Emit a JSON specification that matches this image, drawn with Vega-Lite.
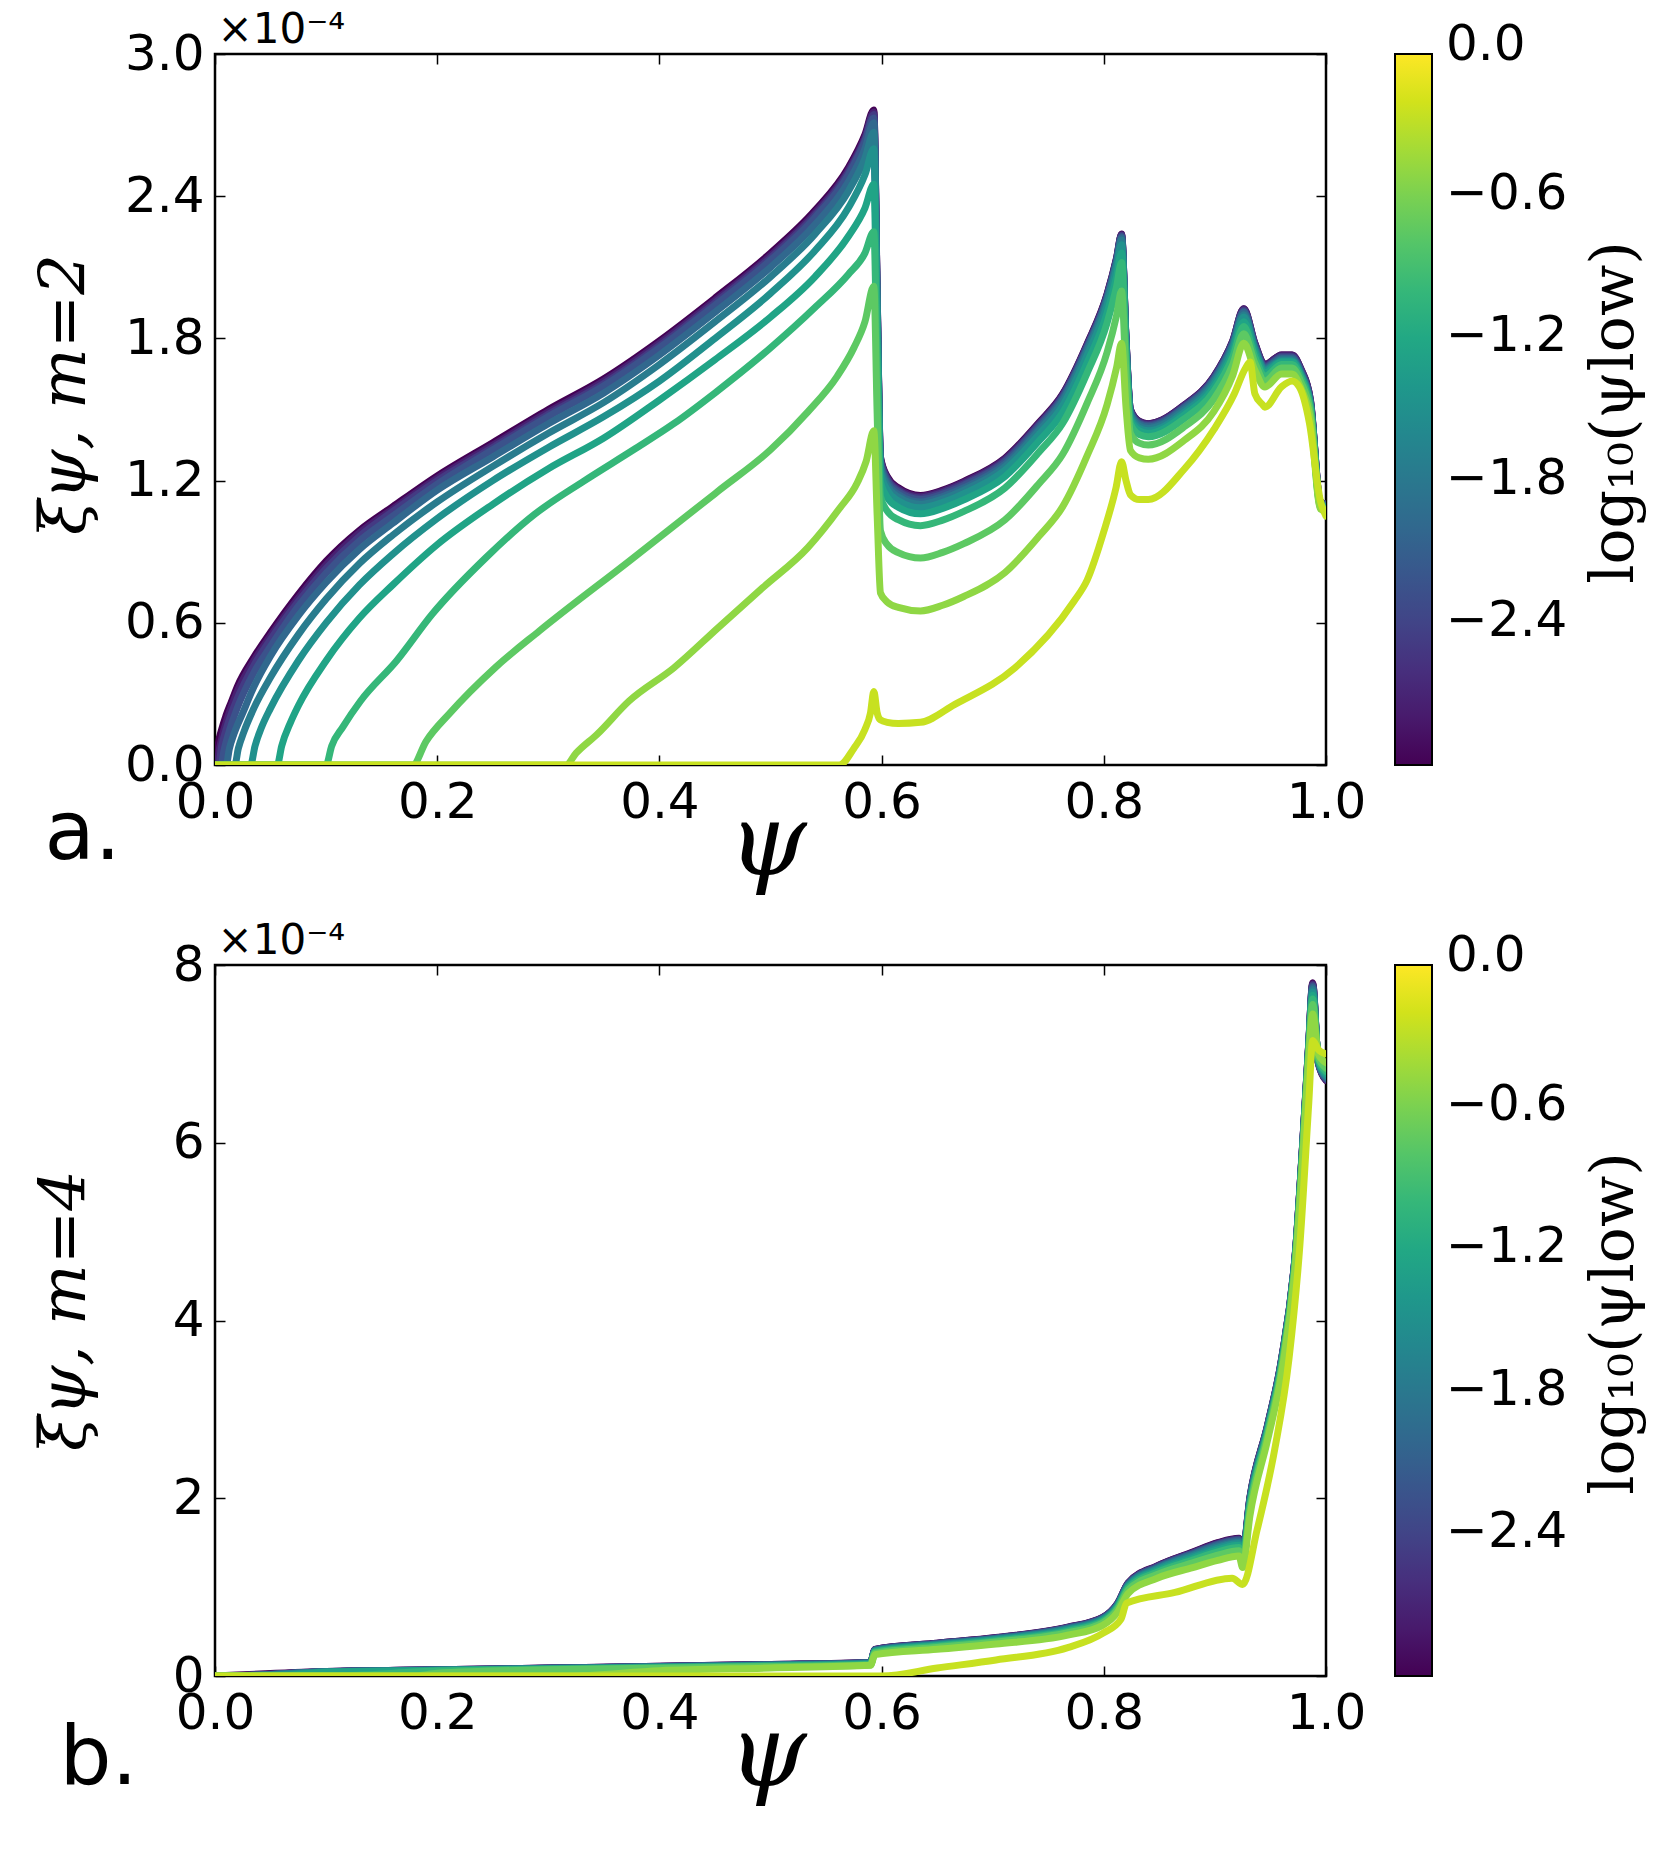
{
"$schema": "https://vega.github.io/schema/vega-lite/v6.json",
"background": "white",
"padding": {"left": 31, "top": 6, "right": 0, "bottom": 24},
"spacing": 22,
"config": {
  "font": "DejaVu Sans",
  "view": {"stroke": "black", "strokeWidth": 2.5},
  "axis": {"grid": false, "domain": false, "ticks": true, "tickColor": "black", "tickWidth": 1.5, "tickSize": -10, "labelFontSize": 50, "labelFont": "DejaVu Sans", "labelColor": "black", "labelFlush": false, "labelOverlap": false, "titleColor": "black", "titleFontWeight": "normal", "titlePadding": 0},
  "legend": {"labelFontSize": 50, "labelFont": "DejaVu Sans", "labelColor": "black"}
},
"datasets": {
"a": [
{"v":-3,"x":0,"y":0},{"v":-3,"x":0.001,"y":0},{"v":-3,"x":0.003,"y":0.09},{"v":-3,"x":0.006,"y":0.15},{"v":-3,"x":0.01,"y":0.21},{"v":-3,"x":0.015,"y":0.27},{"v":-3,"x":0.02,"y":0.33},{"v":-3,"x":0.035,"y":0.455},{"v":-3,"x":0.05,"y":0.56},{"v":-3,"x":0.075,"y":0.72},{"v":-3,"x":0.1,"y":0.86},{"v":-3,"x":0.13,"y":0.99},{"v":-3,"x":0.16,"y":1.09},{"v":-3,"x":0.2,"y":1.22},{"v":-3,"x":0.25,"y":1.36},{"v":-3,"x":0.3,"y":1.5},{"v":-3,"x":0.35,"y":1.63},{"v":-3,"x":0.4,"y":1.79},{"v":-3,"x":0.45,"y":1.97},{"v":-3,"x":0.5,"y":2.16},{"v":-3,"x":0.54,"y":2.34},{"v":-3,"x":0.57,"y":2.52},{"v":-3,"x":0.585,"y":2.66},{"v":-3,"x":0.593,"y":2.764},
{"v":-3,"x":0.596,"y":2.0},{"v":-3,"x":0.599,"y":1.3},{"v":-3,"x":0.605,"y":1.218},{"v":-3,"x":0.615,"y":1.17},{"v":-3,"x":0.635,"y":1.137},{"v":-3,"x":0.655,"y":1.16},{"v":-3,"x":0.674,"y":1.197},{"v":-3,"x":0.711,"y":1.295},{"v":-3,"x":0.7416,"y":1.445},{"v":-3,"x":0.763,"y":1.566},{"v":-3,"x":0.785,"y":1.777},{"v":-3,"x":0.803,"y":1.988},{"v":-3,"x":0.8115,"y":2.14},{"v":-3,"x":0.816,"y":2.24},
{"v":-3,"x":0.82,"y":1.8},{"v":-3,"x":0.824,"y":1.5},{"v":-3,"x":0.832,"y":1.45},{"v":-3,"x":0.84,"y":1.44},{"v":-3,"x":0.8727,"y":1.52},{"v":-3,"x":0.899,"y":1.639},{"v":-3,"x":0.916,"y":1.789},{"v":-3,"x":0.926,"y":1.925},
{"v":-3,"x":0.936,"y":1.779},{"v":-3,"x":0.945,"y":1.69},{"v":-3,"x":0.96,"y":1.73},{"v":-3,"x":0.9695,"y":1.73},{"v":-3,"x":0.9775,"y":1.67},{"v":-3,"x":0.986,"y":1.54},{"v":-3,"x":0.995,"y":1.11},{"v":-3,"x":1.0,"y":1.1},

{"v":-2.75,"x":0,"y":0},{"v":-2.75,"x":0.0018,"y":0},{"v":-2.75,"x":0.004,"y":0.07},{"v":-2.75,"x":0.007,"y":0.13},{"v":-2.75,"x":0.01,"y":0.18},{"v":-2.75,"x":0.015,"y":0.25},{"v":-2.75,"x":0.02,"y":0.31},{"v":-2.75,"x":0.035,"y":0.44},{"v":-2.75,"x":0.05,"y":0.545},{"v":-2.75,"x":0.075,"y":0.705},{"v":-2.75,"x":0.1,"y":0.845},{"v":-2.75,"x":0.13,"y":0.98},{"v":-2.75,"x":0.16,"y":1.08},{"v":-2.75,"x":0.2,"y":1.21},{"v":-2.75,"x":0.25,"y":1.35},{"v":-2.75,"x":0.3,"y":1.49},{"v":-2.75,"x":0.35,"y":1.62},{"v":-2.75,"x":0.4,"y":1.78},{"v":-2.75,"x":0.45,"y":1.96},{"v":-2.75,"x":0.5,"y":2.15},{"v":-2.75,"x":0.54,"y":2.33},{"v":-2.75,"x":0.57,"y":2.51},{"v":-2.75,"x":0.585,"y":2.65},{"v":-2.75,"x":0.593,"y":2.755},
{"v":-2.75,"x":0.596,"y":1.993},{"v":-2.75,"x":0.599,"y":1.295},{"v":-2.75,"x":0.605,"y":1.214},{"v":-2.75,"x":0.615,"y":1.165},{"v":-2.75,"x":0.635,"y":1.133},{"v":-2.75,"x":0.655,"y":1.156},{"v":-2.75,"x":0.674,"y":1.193},{"v":-2.75,"x":0.711,"y":1.291},{"v":-2.75,"x":0.7416,"y":1.441},{"v":-2.75,"x":0.763,"y":1.563},{"v":-2.75,"x":0.785,"y":1.774},{"v":-2.75,"x":0.803,"y":1.985},{"v":-2.75,"x":0.8115,"y":2.137},{"v":-2.75,"x":0.816,"y":2.238},
{"v":-2.75,"x":0.82,"y":1.799},{"v":-2.75,"x":0.824,"y":1.5},{"v":-2.75,"x":0.832,"y":1.45},{"v":-2.75,"x":0.84,"y":1.44},{"v":-2.75,"x":0.8727,"y":1.52},{"v":-2.75,"x":0.899,"y":1.639},{"v":-2.75,"x":0.916,"y":1.789},{"v":-2.75,"x":0.926,"y":1.925},
{"v":-2.75,"x":0.936,"y":1.779},{"v":-2.75,"x":0.945,"y":1.69},{"v":-2.75,"x":0.96,"y":1.73},{"v":-2.75,"x":0.9695,"y":1.73},{"v":-2.75,"x":0.9775,"y":1.67},{"v":-2.75,"x":0.986,"y":1.54},{"v":-2.75,"x":0.995,"y":1.11},{"v":-2.75,"x":1.0,"y":1.1},

{"v":-2.5,"x":0,"y":0},{"v":-2.5,"x":0.0032,"y":0},{"v":-2.5,"x":0.006,"y":0.08},{"v":-2.5,"x":0.01,"y":0.15},{"v":-2.5,"x":0.015,"y":0.22},{"v":-2.5,"x":0.02,"y":0.28},{"v":-2.5,"x":0.035,"y":0.42},{"v":-2.5,"x":0.05,"y":0.53},{"v":-2.5,"x":0.075,"y":0.69},{"v":-2.5,"x":0.1,"y":0.83},{"v":-2.5,"x":0.13,"y":0.965},{"v":-2.5,"x":0.16,"y":1.07},{"v":-2.5,"x":0.2,"y":1.2},{"v":-2.5,"x":0.25,"y":1.34},{"v":-2.5,"x":0.3,"y":1.48},{"v":-2.5,"x":0.35,"y":1.61},{"v":-2.5,"x":0.4,"y":1.77},{"v":-2.5,"x":0.45,"y":1.95},{"v":-2.5,"x":0.5,"y":2.14},{"v":-2.5,"x":0.54,"y":2.32},{"v":-2.5,"x":0.57,"y":2.5},{"v":-2.5,"x":0.585,"y":2.64},{"v":-2.5,"x":0.593,"y":2.745},
{"v":-2.5,"x":0.596,"y":1.985},{"v":-2.5,"x":0.599,"y":1.289},{"v":-2.5,"x":0.605,"y":1.208},{"v":-2.5,"x":0.615,"y":1.159},{"v":-2.5,"x":0.635,"y":1.127},{"v":-2.5,"x":0.655,"y":1.15},{"v":-2.5,"x":0.674,"y":1.187},{"v":-2.5,"x":0.711,"y":1.285},{"v":-2.5,"x":0.7416,"y":1.436},{"v":-2.5,"x":0.763,"y":1.558},{"v":-2.5,"x":0.785,"y":1.77},{"v":-2.5,"x":0.803,"y":1.981},{"v":-2.5,"x":0.8115,"y":2.134},{"v":-2.5,"x":0.816,"y":2.235},
{"v":-2.5,"x":0.82,"y":1.796},{"v":-2.5,"x":0.824,"y":1.496},{"v":-2.5,"x":0.832,"y":1.446},{"v":-2.5,"x":0.84,"y":1.436},{"v":-2.5,"x":0.8727,"y":1.516},{"v":-2.5,"x":0.899,"y":1.634},{"v":-2.5,"x":0.916,"y":1.784},{"v":-2.5,"x":0.926,"y":1.92},
{"v":-2.5,"x":0.936,"y":1.774},{"v":-2.5,"x":0.945,"y":1.685},{"v":-2.5,"x":0.96,"y":1.725},{"v":-2.5,"x":0.9695,"y":1.725},{"v":-2.5,"x":0.9775,"y":1.665},{"v":-2.5,"x":0.986,"y":1.535},{"v":-2.5,"x":0.995,"y":1.11},{"v":-2.5,"x":1.0,"y":1.1},

{"v":-2.25,"x":0,"y":0},{"v":-2.25,"x":0.0056,"y":0},{"v":-2.25,"x":0.008,"y":0.06},{"v":-2.25,"x":0.012,"y":0.13},{"v":-2.25,"x":0.02,"y":0.24},{"v":-2.25,"x":0.035,"y":0.39},{"v":-2.25,"x":0.05,"y":0.5},{"v":-2.25,"x":0.075,"y":0.67},{"v":-2.25,"x":0.1,"y":0.81},{"v":-2.25,"x":0.13,"y":0.945},{"v":-2.25,"x":0.16,"y":1.05},{"v":-2.25,"x":0.2,"y":1.185},{"v":-2.25,"x":0.25,"y":1.33},{"v":-2.25,"x":0.3,"y":1.47},{"v":-2.25,"x":0.35,"y":1.6},{"v":-2.25,"x":0.4,"y":1.76},{"v":-2.25,"x":0.45,"y":1.94},{"v":-2.25,"x":0.5,"y":2.13},{"v":-2.25,"x":0.54,"y":2.31},{"v":-2.25,"x":0.57,"y":2.49},{"v":-2.25,"x":0.585,"y":2.63},{"v":-2.25,"x":0.593,"y":2.73},
{"v":-2.25,"x":0.596,"y":1.973},{"v":-2.25,"x":0.599,"y":1.281},{"v":-2.25,"x":0.605,"y":1.2},{"v":-2.25,"x":0.615,"y":1.152},{"v":-2.25,"x":0.635,"y":1.12},{"v":-2.25,"x":0.655,"y":1.143},{"v":-2.25,"x":0.674,"y":1.18},{"v":-2.25,"x":0.711,"y":1.279},{"v":-2.25,"x":0.7416,"y":1.43},{"v":-2.25,"x":0.763,"y":1.552},{"v":-2.25,"x":0.785,"y":1.764},{"v":-2.25,"x":0.803,"y":1.976},{"v":-2.25,"x":0.8115,"y":2.129},{"v":-2.25,"x":0.816,"y":2.23},
{"v":-2.25,"x":0.82,"y":1.791},{"v":-2.25,"x":0.824,"y":1.492},{"v":-2.25,"x":0.832,"y":1.442},{"v":-2.25,"x":0.84,"y":1.432},{"v":-2.25,"x":0.8727,"y":1.512},{"v":-2.25,"x":0.899,"y":1.63},{"v":-2.25,"x":0.916,"y":1.78},{"v":-2.25,"x":0.926,"y":1.915},
{"v":-2.25,"x":0.936,"y":1.769},{"v":-2.25,"x":0.945,"y":1.68},{"v":-2.25,"x":0.96,"y":1.72},{"v":-2.25,"x":0.9695,"y":1.72},{"v":-2.25,"x":0.9775,"y":1.66},{"v":-2.25,"x":0.986,"y":1.53},{"v":-2.25,"x":0.995,"y":1.11},{"v":-2.25,"x":1.0,"y":1.1},

{"v":-2,"x":0,"y":0},{"v":-2,"x":0.01,"y":0},{"v":-2,"x":0.013,"y":0.07},{"v":-2,"x":0.017,"y":0.13},{"v":-2,"x":0.025,"y":0.22},{"v":-2,"x":0.035,"y":0.33},{"v":-2,"x":0.05,"y":0.46},{"v":-2,"x":0.075,"y":0.63},{"v":-2,"x":0.1,"y":0.77},{"v":-2,"x":0.13,"y":0.91},{"v":-2,"x":0.16,"y":1.02},{"v":-2,"x":0.2,"y":1.16},{"v":-2,"x":0.25,"y":1.3},{"v":-2,"x":0.3,"y":1.44},{"v":-2,"x":0.35,"y":1.57},{"v":-2,"x":0.4,"y":1.73},{"v":-2,"x":0.45,"y":1.91},{"v":-2,"x":0.5,"y":2.1},{"v":-2,"x":0.54,"y":2.28},{"v":-2,"x":0.57,"y":2.46},{"v":-2,"x":0.585,"y":2.6},{"v":-2,"x":0.593,"y":2.71},
{"v":-2,"x":0.596,"y":1.958},{"v":-2,"x":0.599,"y":1.27},{"v":-2,"x":0.605,"y":1.19},{"v":-2,"x":0.615,"y":1.142},{"v":-2,"x":0.635,"y":1.11},{"v":-2,"x":0.655,"y":1.133},{"v":-2,"x":0.674,"y":1.17},{"v":-2,"x":0.711,"y":1.269},{"v":-2,"x":0.7416,"y":1.421},{"v":-2,"x":0.763,"y":1.544},{"v":-2,"x":0.785,"y":1.757},{"v":-2,"x":0.803,"y":1.97},{"v":-2,"x":0.8115,"y":2.124},{"v":-2,"x":0.816,"y":2.225},
{"v":-2,"x":0.82,"y":1.786},{"v":-2,"x":0.824,"y":1.487},{"v":-2,"x":0.832,"y":1.437},{"v":-2,"x":0.84,"y":1.427},{"v":-2,"x":0.8727,"y":1.507},{"v":-2,"x":0.899,"y":1.625},{"v":-2,"x":0.916,"y":1.775},{"v":-2,"x":0.926,"y":1.91},
{"v":-2,"x":0.936,"y":1.764},{"v":-2,"x":0.945,"y":1.675},{"v":-2,"x":0.96,"y":1.715},{"v":-2,"x":0.9695,"y":1.715},{"v":-2,"x":0.9775,"y":1.655},{"v":-2,"x":0.986,"y":1.525},{"v":-2,"x":0.995,"y":1.105},{"v":-2,"x":1.0,"y":1.095},

{"v":-1.75,"x":0,"y":0},{"v":-1.75,"x":0.0178,"y":0},{"v":-1.75,"x":0.021,"y":0.07},{"v":-1.75,"x":0.026,"y":0.14},{"v":-1.75,"x":0.035,"y":0.24},{"v":-1.75,"x":0.05,"y":0.37},{"v":-1.75,"x":0.075,"y":0.55},{"v":-1.75,"x":0.1,"y":0.7},{"v":-1.75,"x":0.13,"y":0.85},{"v":-1.75,"x":0.16,"y":0.97},{"v":-1.75,"x":0.2,"y":1.11},{"v":-1.75,"x":0.25,"y":1.26},{"v":-1.75,"x":0.3,"y":1.4},{"v":-1.75,"x":0.35,"y":1.53},{"v":-1.75,"x":0.4,"y":1.69},{"v":-1.75,"x":0.45,"y":1.87},{"v":-1.75,"x":0.5,"y":2.06},{"v":-1.75,"x":0.54,"y":2.24},{"v":-1.75,"x":0.57,"y":2.42},{"v":-1.75,"x":0.585,"y":2.56},{"v":-1.75,"x":0.593,"y":2.67},
{"v":-1.75,"x":0.596,"y":1.932},{"v":-1.75,"x":0.599,"y":1.257},{"v":-1.75,"x":0.605,"y":1.179},{"v":-1.75,"x":0.615,"y":1.131},{"v":-1.75,"x":0.635,"y":1.1},{"v":-1.75,"x":0.655,"y":1.123},{"v":-1.75,"x":0.674,"y":1.16},{"v":-1.75,"x":0.711,"y":1.259},{"v":-1.75,"x":0.7416,"y":1.411},{"v":-1.75,"x":0.763,"y":1.534},{"v":-1.75,"x":0.785,"y":1.747},{"v":-1.75,"x":0.803,"y":1.96},{"v":-1.75,"x":0.8115,"y":2.114},{"v":-1.75,"x":0.816,"y":2.215},
{"v":-1.75,"x":0.82,"y":1.778},{"v":-1.75,"x":0.824,"y":1.48},{"v":-1.75,"x":0.832,"y":1.43},{"v":-1.75,"x":0.84,"y":1.42},{"v":-1.75,"x":0.8727,"y":1.499},{"v":-1.75,"x":0.899,"y":1.617},{"v":-1.75,"x":0.916,"y":1.766},{"v":-1.75,"x":0.926,"y":1.9},
{"v":-1.75,"x":0.936,"y":1.757},{"v":-1.75,"x":0.945,"y":1.67},{"v":-1.75,"x":0.96,"y":1.71},{"v":-1.75,"x":0.9695,"y":1.71},{"v":-1.75,"x":0.9775,"y":1.65},{"v":-1.75,"x":0.986,"y":1.52},{"v":-1.75,"x":0.995,"y":1.1},{"v":-1.75,"x":1.0,"y":1.09},

{"v":-1.5,"x":0,"y":0},{"v":-1.5,"x":0.032,"y":0},{"v":-1.5,"x":0.036,"y":0.08},{"v":-1.5,"x":0.042,"y":0.16},{"v":-1.5,"x":0.05,"y":0.24},{"v":-1.5,"x":0.075,"y":0.44},{"v":-1.5,"x":0.1,"y":0.6},{"v":-1.5,"x":0.13,"y":0.76},{"v":-1.5,"x":0.16,"y":0.89},{"v":-1.5,"x":0.2,"y":1.04},{"v":-1.5,"x":0.25,"y":1.2},{"v":-1.5,"x":0.3,"y":1.34},{"v":-1.5,"x":0.35,"y":1.47},{"v":-1.5,"x":0.4,"y":1.62},{"v":-1.5,"x":0.45,"y":1.8},{"v":-1.5,"x":0.5,"y":1.99},{"v":-1.5,"x":0.54,"y":2.17},{"v":-1.5,"x":0.57,"y":2.35},{"v":-1.5,"x":0.585,"y":2.49},{"v":-1.5,"x":0.593,"y":2.6},
{"v":-1.5,"x":0.596,"y":1.888},{"v":-1.5,"x":0.599,"y":1.237},{"v":-1.5,"x":0.605,"y":1.161},{"v":-1.5,"x":0.615,"y":1.115},{"v":-1.5,"x":0.635,"y":1.085},{"v":-1.5,"x":0.655,"y":1.108},{"v":-1.5,"x":0.674,"y":1.145},{"v":-1.5,"x":0.711,"y":1.244},{"v":-1.5,"x":0.7416,"y":1.395},{"v":-1.5,"x":0.763,"y":1.517},{"v":-1.5,"x":0.785,"y":1.729},{"v":-1.5,"x":0.803,"y":1.941},{"v":-1.5,"x":0.8115,"y":2.094},{"v":-1.5,"x":0.816,"y":2.195},
{"v":-1.5,"x":0.82,"y":1.763},{"v":-1.5,"x":0.824,"y":1.469},{"v":-1.5,"x":0.832,"y":1.42},{"v":-1.5,"x":0.84,"y":1.41},{"v":-1.5,"x":0.8727,"y":1.489},{"v":-1.5,"x":0.899,"y":1.607},{"v":-1.5,"x":0.916,"y":1.756},{"v":-1.5,"x":0.926,"y":1.89},
{"v":-1.5,"x":0.936,"y":1.75},{"v":-1.5,"x":0.945,"y":1.665},{"v":-1.5,"x":0.96,"y":1.705},{"v":-1.5,"x":0.9695,"y":1.705},{"v":-1.5,"x":0.9775,"y":1.645},{"v":-1.5,"x":0.986,"y":1.515},{"v":-1.5,"x":0.995,"y":1.1},{"v":-1.5,"x":1.0,"y":1.09},

{"v":-1.25,"x":0,"y":0},{"v":-1.25,"x":0.056,"y":0},{"v":-1.25,"x":0.06,"y":0.08},{"v":-1.25,"x":0.068,"y":0.18},{"v":-1.25,"x":0.075,"y":0.25},{"v":-1.25,"x":0.1,"y":0.44},{"v":-1.25,"x":0.13,"y":0.62},{"v":-1.25,"x":0.16,"y":0.76},{"v":-1.25,"x":0.2,"y":0.93},{"v":-1.25,"x":0.25,"y":1.1},{"v":-1.25,"x":0.3,"y":1.25},{"v":-1.25,"x":0.35,"y":1.38},{"v":-1.25,"x":0.4,"y":1.54},{"v":-1.25,"x":0.45,"y":1.71},{"v":-1.25,"x":0.5,"y":1.89},{"v":-1.25,"x":0.54,"y":2.06},{"v":-1.25,"x":0.57,"y":2.23},{"v":-1.25,"x":0.585,"y":2.35},{"v":-1.25,"x":0.593,"y":2.45},
{"v":-1.25,"x":0.596,"y":1.797},{"v":-1.25,"x":0.599,"y":1.199},{"v":-1.25,"x":0.605,"y":1.13},{"v":-1.25,"x":0.615,"y":1.088},{"v":-1.25,"x":0.635,"y":1.06},{"v":-1.25,"x":0.655,"y":1.083},{"v":-1.25,"x":0.674,"y":1.119},{"v":-1.25,"x":0.711,"y":1.217},{"v":-1.25,"x":0.7416,"y":1.367},{"v":-1.25,"x":0.763,"y":1.488},{"v":-1.25,"x":0.785,"y":1.698},{"v":-1.25,"x":0.803,"y":1.908},{"v":-1.25,"x":0.8115,"y":2.06},{"v":-1.25,"x":0.816,"y":2.16},
{"v":-1.25,"x":0.82,"y":1.742},{"v":-1.25,"x":0.824,"y":1.457},{"v":-1.25,"x":0.832,"y":1.41},{"v":-1.25,"x":0.84,"y":1.4},{"v":-1.25,"x":0.8727,"y":1.478},{"v":-1.25,"x":0.899,"y":1.593},{"v":-1.25,"x":0.916,"y":1.738},{"v":-1.25,"x":0.926,"y":1.87},
{"v":-1.25,"x":0.936,"y":1.737},{"v":-1.25,"x":0.945,"y":1.655},{"v":-1.25,"x":0.96,"y":1.7},{"v":-1.25,"x":0.9695,"y":1.7},{"v":-1.25,"x":0.9775,"y":1.64},{"v":-1.25,"x":0.986,"y":1.51},{"v":-1.25,"x":0.995,"y":1.095},{"v":-1.25,"x":1.0,"y":1.085},

{"v":-1,"x":0,"y":0},{"v":-1,"x":0.1,"y":0},{"v":-1,"x":0.105,"y":0.08},{"v":-1,"x":0.115,"y":0.16},{"v":-1,"x":0.131,"y":0.27},{"v":-1,"x":0.1635,"y":0.44},{"v":-1,"x":0.1956,"y":0.637},{"v":-1,"x":0.2439,"y":0.875},{"v":-1,"x":0.288,"y":1.059},{"v":-1,"x":0.332,"y":1.198},{"v":-1,"x":0.3767,"y":1.33},{"v":-1,"x":0.4129,"y":1.44},{"v":-1,"x":0.45,"y":1.57},{"v":-1,"x":0.5,"y":1.76},{"v":-1,"x":0.54,"y":1.93},{"v":-1,"x":0.57,"y":2.07},{"v":-1,"x":0.585,"y":2.16},{"v":-1,"x":0.593,"y":2.25},
{"v":-1,"x":0.596,"y":1.667},{"v":-1,"x":0.599,"y":1.134},{"v":-1,"x":0.605,"y":1.072},{"v":-1,"x":0.615,"y":1.035},{"v":-1,"x":0.635,"y":1.01},{"v":-1,"x":0.655,"y":1.033},{"v":-1,"x":0.674,"y":1.07},{"v":-1,"x":0.711,"y":1.169},{"v":-1,"x":0.7416,"y":1.32},{"v":-1,"x":0.763,"y":1.442},{"v":-1,"x":0.785,"y":1.654},{"v":-1,"x":0.803,"y":1.866},{"v":-1,"x":0.8115,"y":2.019},{"v":-1,"x":0.816,"y":2.12},
{"v":-1,"x":0.82,"y":1.716},{"v":-1,"x":0.824,"y":1.44},{"v":-1,"x":0.832,"y":1.394},{"v":-1,"x":0.84,"y":1.385},{"v":-1,"x":0.8727,"y":1.462},{"v":-1,"x":0.899,"y":1.576},{"v":-1,"x":0.916,"y":1.72},{"v":-1,"x":0.926,"y":1.85},
{"v":-1,"x":0.936,"y":1.72},{"v":-1,"x":0.945,"y":1.64},{"v":-1,"x":0.96,"y":1.69},{"v":-1,"x":0.9695,"y":1.69},{"v":-1,"x":0.9775,"y":1.63},{"v":-1,"x":0.986,"y":1.5},{"v":-1,"x":0.995,"y":1.09},{"v":-1,"x":1.0,"y":1.08},

{"v":-0.75,"x":0,"y":0},{"v":-0.75,"x":0.178,"y":0},{"v":-0.75,"x":0.19,"y":0.1},{"v":-0.75,"x":0.2116,"y":0.22},{"v":-0.75,"x":0.252,"y":0.41},{"v":-0.75,"x":0.292,"y":0.566},{"v":-0.75,"x":0.3727,"y":0.86},{"v":-0.75,"x":0.453,"y":1.156},{"v":-0.75,"x":0.5,"y":1.33},{"v":-0.75,"x":0.5336,"y":1.49},{"v":-0.75,"x":0.56,"y":1.64},{"v":-0.75,"x":0.575,"y":1.76},{"v":-0.75,"x":0.585,"y":1.87},{"v":-0.75,"x":0.593,"y":2.02},
{"v":-0.75,"x":0.596,"y":1.481},{"v":-0.75,"x":0.599,"y":0.988},{"v":-0.75,"x":0.605,"y":0.93},{"v":-0.75,"x":0.615,"y":0.896},{"v":-0.75,"x":0.635,"y":0.873},{"v":-0.75,"x":0.655,"y":0.897},{"v":-0.75,"x":0.674,"y":0.934},{"v":-0.75,"x":0.711,"y":1.034},{"v":-0.75,"x":0.7416,"y":1.187},{"v":-0.75,"x":0.763,"y":1.311},{"v":-0.75,"x":0.785,"y":1.527},{"v":-0.75,"x":0.803,"y":1.742},{"v":-0.75,"x":0.8115,"y":1.897},{"v":-0.75,"x":0.816,"y":2.0},
{"v":-0.75,"x":0.82,"y":1.643},{"v":-0.75,"x":0.824,"y":1.399},{"v":-0.75,"x":0.832,"y":1.358},{"v":-0.75,"x":0.84,"y":1.35},{"v":-0.75,"x":0.8727,"y":1.428},{"v":-0.75,"x":0.899,"y":1.543},{"v":-0.75,"x":0.916,"y":1.688},{"v":-0.75,"x":0.926,"y":1.82},
{"v":-0.75,"x":0.936,"y":1.696},{"v":-0.75,"x":0.945,"y":1.62},{"v":-0.75,"x":0.96,"y":1.675},{"v":-0.75,"x":0.9695,"y":1.675},{"v":-0.75,"x":0.9775,"y":1.615},{"v":-0.75,"x":0.986,"y":1.485},{"v":-0.75,"x":0.995,"y":1.085},{"v":-0.75,"x":1.0,"y":1.075},

{"v":-0.5,"x":0,"y":0},{"v":-0.5,"x":0.316,"y":0},{"v":-0.5,"x":0.325,"y":0.05},{"v":-0.5,"x":0.344,"y":0.13},{"v":-0.5,"x":0.3727,"y":0.27},{"v":-0.5,"x":0.413,"y":0.41},{"v":-0.5,"x":0.453,"y":0.58},{"v":-0.5,"x":0.493,"y":0.748},{"v":-0.5,"x":0.5336,"y":0.917},{"v":-0.5,"x":0.5617,"y":1.08},{"v":-0.5,"x":0.578,"y":1.19},{"v":-0.5,"x":0.586,"y":1.28},{"v":-0.5,"x":0.593,"y":1.41},
{"v":-0.5,"x":0.596,"y":1.053},{"v":-0.5,"x":0.599,"y":0.726},{"v":-0.5,"x":0.605,"y":0.688},{"v":-0.5,"x":0.615,"y":0.665},{"v":-0.5,"x":0.635,"y":0.65},{"v":-0.5,"x":0.655,"y":0.674},{"v":-0.5,"x":0.674,"y":0.711},{"v":-0.5,"x":0.711,"y":0.812},{"v":-0.5,"x":0.7416,"y":0.965},{"v":-0.5,"x":0.763,"y":1.09},{"v":-0.5,"x":0.785,"y":1.305},{"v":-0.5,"x":0.803,"y":1.521},{"v":-0.5,"x":0.8115,"y":1.677},{"v":-0.5,"x":0.816,"y":1.78},
{"v":-0.5,"x":0.82,"y":1.51},{"v":-0.5,"x":0.824,"y":1.327},{"v":-0.5,"x":0.832,"y":1.296},{"v":-0.5,"x":0.84,"y":1.29},{"v":-0.5,"x":0.8727,"y":1.371},{"v":-0.5,"x":0.899,"y":1.491},{"v":-0.5,"x":0.916,"y":1.643},{"v":-0.5,"x":0.926,"y":1.78},
{"v":-0.5,"x":0.936,"y":1.665},{"v":-0.5,"x":0.945,"y":1.595},{"v":-0.5,"x":0.96,"y":1.65},{"v":-0.5,"x":0.9695,"y":1.65},{"v":-0.5,"x":0.9775,"y":1.59},{"v":-0.5,"x":0.986,"y":1.46},{"v":-0.5,"x":0.995,"y":1.08},{"v":-0.5,"x":1.0,"y":1.07},

{"v":-0.25,"x":0,"y":0},{"v":-0.25,"x":0.562,"y":0},{"v":-0.25,"x":0.575,"y":0.07},{"v":-0.25,"x":0.585,"y":0.15},{"v":-0.25,"x":0.59,"y":0.22},{"v":-0.25,"x":0.593,"y":0.31},{"v":-0.25,"x":0.596,"y":0.22},{"v":-0.25,"x":0.599,"y":0.19},{"v":-0.25,"x":0.605,"y":0.18},{"v":-0.25,"x":0.615,"y":0.175},{"v":-0.25,"x":0.635,"y":0.18},{"v":-0.25,"x":0.666,"y":0.256},{"v":-0.25,"x":0.72,"y":0.41},{"v":-0.25,"x":0.773,"y":0.69},{"v":-0.25,"x":0.785,"y":0.78},{"v":-0.25,"x":0.8,"y":0.985},{"v":-0.25,"x":0.811,"y":1.17},{"v":-0.25,"x":0.816,"y":1.28},{"v":-0.25,"x":0.82,"y":1.2},{"v":-0.25,"x":0.824,"y":1.14},{"v":-0.25,"x":0.832,"y":1.12},{"v":-0.25,"x":0.84,"y":1.12},{"v":-0.25,"x":0.8727,"y":1.25},{"v":-0.25,"x":0.899,"y":1.415},{"v":-0.25,"x":0.9175,"y":1.566},{"v":-0.25,"x":0.927,"y":1.67},{"v":-0.25,"x":0.9317,"y":1.7},{"v":-0.25,"x":0.936,"y":1.566},{"v":-0.25,"x":0.943,"y":1.52},{"v":-0.25,"x":0.945,"y":1.51},{"v":-0.25,"x":0.9598,"y":1.595},{"v":-0.25,"x":0.9695,"y":1.62},{"v":-0.25,"x":0.976,"y":1.595},{"v":-0.25,"x":0.985,"y":1.445},{"v":-0.25,"x":0.995,"y":1.114},{"v":-0.25,"x":1.0,"y":1.05}
],
"b": [
{"v":-3,"x":0,"y":0},{"v":-3,"x":0.1,"y":0.05},{"v":-3,"x":0.2,"y":0.07},{"v":-3,"x":0.3,"y":0.09},{"v":-3,"x":0.4,"y":0.11},{"v":-3,"x":0.5,"y":0.13},{"v":-3,"x":0.59,"y":0.155},{"v":-3,"x":0.594,"y":0.3},{"v":-3,"x":0.65,"y":0.37},{"v":-3,"x":0.703,"y":0.433},{"v":-3,"x":0.7675,"y":0.55},{"v":-3,"x":0.799,"y":0.66},{"v":-3,"x":0.8125,"y":0.82},{"v":-3,"x":0.822,"y":1.05},{"v":-3,"x":0.848,"y":1.24},{"v":-3,"x":0.88,"y":1.395},{"v":-3,"x":0.9025,"y":1.5},{"v":-3,"x":0.9217,"y":1.55},{"v":-3,"x":0.925,"y":1.4},{"v":-3,"x":0.9315,"y":2.01},{"v":-3,"x":0.9475,"y":2.83},{"v":-3,"x":0.96,"y":3.57},{"v":-3,"x":0.973,"y":4.85},{"v":-3,"x":0.979,"y":5.99},{"v":-3,"x":0.9845,"y":7.13},{"v":-3,"x":0.988,"y":7.8},{"v":-3,"x":0.993,"y":6.9},{"v":-3,"x":1.0,"y":6.7},
{"v":-2.75,"x":0,"y":0},{"v":-2.75,"x":0.0018,"y":0},{"v":-2.75,"x":0.1,"y":0.05},{"v":-2.75,"x":0.2,"y":0.07},{"v":-2.75,"x":0.3,"y":0.09},{"v":-2.75,"x":0.4,"y":0.11},{"v":-2.75,"x":0.5,"y":0.13},{"v":-2.75,"x":0.59,"y":0.15},{"v":-2.75,"x":0.594,"y":0.298},{"v":-2.75,"x":0.65,"y":0.368},{"v":-2.75,"x":0.703,"y":0.431},{"v":-2.75,"x":0.7675,"y":0.547},{"v":-2.75,"x":0.799,"y":0.657},{"v":-2.75,"x":0.8125,"y":0.817},{"v":-2.75,"x":0.822,"y":1.046},{"v":-2.75,"x":0.848,"y":1.236},{"v":-2.75,"x":0.88,"y":1.39},{"v":-2.75,"x":0.9025,"y":1.494},{"v":-2.75,"x":0.9217,"y":1.544},{"v":-2.75,"x":0.925,"y":1.395},{"v":-2.75,"x":0.9315,"y":2.004},{"v":-2.75,"x":0.9475,"y":2.825},{"v":-2.75,"x":0.96,"y":3.565},{"v":-2.75,"x":0.973,"y":4.846},{"v":-2.75,"x":0.979,"y":5.984},{"v":-2.75,"x":0.9845,"y":7.125},{"v":-2.75,"x":0.988,"y":7.79},{"v":-2.75,"x":0.993,"y":6.903},{"v":-2.75,"x":1.0,"y":6.706},
{"v":-2.5,"x":0,"y":0},{"v":-2.5,"x":0.0032,"y":0},{"v":-2.5,"x":0.1,"y":0.049},{"v":-2.5,"x":0.2,"y":0.069},{"v":-2.5,"x":0.3,"y":0.088},{"v":-2.5,"x":0.4,"y":0.108},{"v":-2.5,"x":0.5,"y":0.128},{"v":-2.5,"x":0.59,"y":0.152},{"v":-2.5,"x":0.594,"y":0.296},{"v":-2.5,"x":0.65,"y":0.366},{"v":-2.5,"x":0.703,"y":0.429},{"v":-2.5,"x":0.7675,"y":0.545},{"v":-2.5,"x":0.799,"y":0.655},{"v":-2.5,"x":0.8125,"y":0.814},{"v":-2.5,"x":0.822,"y":1.043},{"v":-2.5,"x":0.848,"y":1.232},{"v":-2.5,"x":0.88,"y":1.385},{"v":-2.5,"x":0.9025,"y":1.488},{"v":-2.5,"x":0.9217,"y":1.538},{"v":-2.5,"x":0.925,"y":1.389},{"v":-2.5,"x":0.9315,"y":1.997},{"v":-2.5,"x":0.9475,"y":2.82},{"v":-2.5,"x":0.96,"y":3.56},{"v":-2.5,"x":0.973,"y":4.841},{"v":-2.5,"x":0.979,"y":5.979},{"v":-2.5,"x":0.9845,"y":7.119},{"v":-2.5,"x":0.988,"y":7.779},{"v":-2.5,"x":0.993,"y":6.906},{"v":-2.5,"x":1.0,"y":6.712},
{"v":-2.25,"x":0,"y":0},{"v":-2.25,"x":0.0056,"y":0},{"v":-2.25,"x":0.1,"y":0.048},{"v":-2.25,"x":0.2,"y":0.068},{"v":-2.25,"x":0.3,"y":0.087},{"v":-2.25,"x":0.4,"y":0.107},{"v":-2.25,"x":0.5,"y":0.126},{"v":-2.25,"x":0.59,"y":0.15},{"v":-2.25,"x":0.594,"y":0.294},{"v":-2.25,"x":0.65,"y":0.363},{"v":-2.25,"x":0.703,"y":0.426},{"v":-2.25,"x":0.7675,"y":0.541},{"v":-2.25,"x":0.799,"y":0.651},{"v":-2.25,"x":0.8125,"y":0.81},{"v":-2.25,"x":0.822,"y":1.038},{"v":-2.25,"x":0.848,"y":1.226},{"v":-2.25,"x":0.88,"y":1.378},{"v":-2.25,"x":0.9025,"y":1.48},{"v":-2.25,"x":0.9217,"y":1.53},{"v":-2.25,"x":0.925,"y":1.382},{"v":-2.25,"x":0.9315,"y":1.989},{"v":-2.25,"x":0.9475,"y":2.813},{"v":-2.25,"x":0.96,"y":3.553},{"v":-2.25,"x":0.973,"y":4.835},{"v":-2.25,"x":0.979,"y":5.971},{"v":-2.25,"x":0.9845,"y":7.112},{"v":-2.25,"x":0.988,"y":7.765},{"v":-2.25,"x":0.993,"y":6.91},{"v":-2.25,"x":1.0,"y":6.72},
{"v":-2,"x":0,"y":0},{"v":-2,"x":0.01,"y":0},{"v":-2,"x":0.1,"y":0.048},{"v":-2,"x":0.2,"y":0.067},{"v":-2,"x":0.3,"y":0.086},{"v":-2,"x":0.4,"y":0.105},{"v":-2,"x":0.5,"y":0.124},{"v":-2,"x":0.59,"y":0.148},{"v":-2,"x":0.594,"y":0.291},{"v":-2,"x":0.65,"y":0.36},{"v":-2,"x":0.703,"y":0.422},{"v":-2,"x":0.7675,"y":0.537},{"v":-2,"x":0.799,"y":0.647},{"v":-2,"x":0.8125,"y":0.805},{"v":-2,"x":0.822,"y":1.032},{"v":-2,"x":0.848,"y":1.219},{"v":-2,"x":0.88,"y":1.369},{"v":-2,"x":0.9025,"y":1.47},{"v":-2,"x":0.9217,"y":1.52},{"v":-2,"x":0.925,"y":1.373},{"v":-2,"x":0.9315,"y":1.979},{"v":-2,"x":0.9475,"y":2.805},{"v":-2,"x":0.96,"y":3.545},{"v":-2,"x":0.973,"y":4.828},{"v":-2,"x":0.979,"y":5.962},{"v":-2,"x":0.9845,"y":7.103},{"v":-2,"x":0.988,"y":7.748},{"v":-2,"x":0.993,"y":6.915},{"v":-2,"x":1.0,"y":6.73},
{"v":-1.75,"x":0,"y":0},{"v":-1.75,"x":0.0178,"y":0},{"v":-1.75,"x":0.1,"y":0.047},{"v":-1.75,"x":0.2,"y":0.065},{"v":-1.75,"x":0.3,"y":0.084},{"v":-1.75,"x":0.4,"y":0.103},{"v":-1.75,"x":0.5,"y":0.121},{"v":-1.75,"x":0.59,"y":0.145},{"v":-1.75,"x":0.594,"y":0.287},{"v":-1.75,"x":0.65,"y":0.355},{"v":-1.75,"x":0.703,"y":0.417},{"v":-1.75,"x":0.7675,"y":0.53},{"v":-1.75,"x":0.799,"y":0.64},{"v":-1.75,"x":0.8125,"y":0.798},{"v":-1.75,"x":0.822,"y":1.024},{"v":-1.75,"x":0.848,"y":1.209},{"v":-1.75,"x":0.88,"y":1.357},{"v":-1.75,"x":0.9025,"y":1.456},{"v":-1.75,"x":0.9217,"y":1.506},{"v":-1.75,"x":0.925,"y":1.36},{"v":-1.75,"x":0.9315,"y":1.964},{"v":-1.75,"x":0.9475,"y":2.793},{"v":-1.75,"x":0.96,"y":3.533},{"v":-1.75,"x":0.973,"y":4.817},{"v":-1.75,"x":0.979,"y":5.948},{"v":-1.75,"x":0.9845,"y":7.09},{"v":-1.75,"x":0.988,"y":7.723},{"v":-1.75,"x":0.993,"y":6.922},{"v":-1.75,"x":1.0,"y":6.744},
{"v":-1.5,"x":0,"y":0},{"v":-1.5,"x":0.032,"y":0},{"v":-1.5,"x":0.1,"y":0.045},{"v":-1.5,"x":0.2,"y":0.064},{"v":-1.5,"x":0.3,"y":0.082},{"v":-1.5,"x":0.4,"y":0.1},{"v":-1.5,"x":0.5,"y":0.118},{"v":-1.5,"x":0.59,"y":0.141},{"v":-1.5,"x":0.594,"y":0.282},{"v":-1.5,"x":0.65,"y":0.349},{"v":-1.5,"x":0.703,"y":0.411},{"v":-1.5,"x":0.7675,"y":0.523},{"v":-1.5,"x":0.799,"y":0.633},{"v":-1.5,"x":0.8125,"y":0.79},{"v":-1.5,"x":0.822,"y":1.014},{"v":-1.5,"x":0.848,"y":1.198},{"v":-1.5,"x":0.88,"y":1.343},{"v":-1.5,"x":0.9025,"y":1.44},{"v":-1.5,"x":0.9217,"y":1.49},{"v":-1.5,"x":0.925,"y":1.346},{"v":-1.5,"x":0.9315,"y":1.947},{"v":-1.5,"x":0.9475,"y":2.779},{"v":-1.5,"x":0.96,"y":3.519},{"v":-1.5,"x":0.973,"y":4.805},{"v":-1.5,"x":0.979,"y":5.933},{"v":-1.5,"x":0.9845,"y":7.076},{"v":-1.5,"x":0.988,"y":7.695},{"v":-1.5,"x":0.993,"y":6.93},{"v":-1.5,"x":1.0,"y":6.76},
{"v":-1.25,"x":0,"y":0},{"v":-1.25,"x":0.056,"y":0},{"v":-1.25,"x":0.1,"y":0.043},{"v":-1.25,"x":0.2,"y":0.062},{"v":-1.25,"x":0.3,"y":0.079},{"v":-1.25,"x":0.4,"y":0.097},{"v":-1.25,"x":0.5,"y":0.114},{"v":-1.25,"x":0.59,"y":0.136},{"v":-1.25,"x":0.594,"y":0.276},{"v":-1.25,"x":0.65,"y":0.342},{"v":-1.25,"x":0.703,"y":0.404},{"v":-1.25,"x":0.7675,"y":0.514},{"v":-1.25,"x":0.799,"y":0.624},{"v":-1.25,"x":0.8125,"y":0.78},{"v":-1.25,"x":0.822,"y":1.002},{"v":-1.25,"x":0.848,"y":1.184},{"v":-1.25,"x":0.88,"y":1.325},{"v":-1.25,"x":0.9025,"y":1.42},{"v":-1.25,"x":0.9217,"y":1.47},{"v":-1.25,"x":0.925,"y":1.328},{"v":-1.25,"x":0.9315,"y":1.926},{"v":-1.25,"x":0.9475,"y":2.762},{"v":-1.25,"x":0.96,"y":3.502},{"v":-1.25,"x":0.973,"y":4.79},{"v":-1.25,"x":0.979,"y":5.914},{"v":-1.25,"x":0.9845,"y":7.058},{"v":-1.25,"x":0.988,"y":7.66},{"v":-1.25,"x":0.993,"y":6.94},{"v":-1.25,"x":1.0,"y":6.78},
{"v":-1,"x":0,"y":0},{"v":-1,"x":0.1,"y":0},{"v":-1,"x":0.2,"y":0.055},{"v":-1,"x":0.3,"y":0.076},{"v":-1,"x":0.4,"y":0.093},{"v":-1,"x":0.5,"y":0.11},{"v":-1,"x":0.59,"y":0.13},{"v":-1,"x":0.594,"y":0.269},{"v":-1,"x":0.65,"y":0.334},{"v":-1,"x":0.703,"y":0.395},{"v":-1,"x":0.7675,"y":0.503},{"v":-1,"x":0.799,"y":0.613},{"v":-1,"x":0.8125,"y":0.768},{"v":-1,"x":0.822,"y":0.988},{"v":-1,"x":0.848,"y":1.167},{"v":-1,"x":0.88,"y":1.304},{"v":-1,"x":0.9025,"y":1.396},{"v":-1,"x":0.9217,"y":1.446},{"v":-1,"x":0.925,"y":1.306},{"v":-1,"x":0.9315,"y":1.9},{"v":-1,"x":0.9475,"y":2.742},{"v":-1,"x":0.96,"y":3.482},{"v":-1,"x":0.973,"y":4.772},{"v":-1,"x":0.979,"y":5.891},{"v":-1,"x":0.9845,"y":7.036},{"v":-1,"x":0.988,"y":7.618},{"v":-1,"x":0.993,"y":6.952},{"v":-1,"x":1.0,"y":6.804},
{"v":-0.75,"x":0,"y":0},{"v":-0.75,"x":0.178,"y":0},{"v":-0.75,"x":0.2,"y":0.03},{"v":-0.75,"x":0.3,"y":0.07},{"v":-0.75,"x":0.4,"y":0.088},{"v":-0.75,"x":0.5,"y":0.104},{"v":-0.75,"x":0.59,"y":0.125},{"v":-0.75,"x":0.594,"y":0.258},{"v":-0.75,"x":0.65,"y":0.321},{"v":-0.75,"x":0.703,"y":0.382},{"v":-0.75,"x":0.7675,"y":0.487},{"v":-0.75,"x":0.799,"y":0.597},{"v":-0.75,"x":0.8125,"y":0.75},{"v":-0.75,"x":0.822,"y":0.966},{"v":-0.75,"x":0.848,"y":1.142},{"v":-0.75,"x":0.88,"y":1.273},{"v":-0.75,"x":0.9025,"y":1.36},{"v":-0.75,"x":0.9217,"y":1.41},{"v":-0.75,"x":0.925,"y":1.274},{"v":-0.75,"x":0.9315,"y":1.863},{"v":-0.75,"x":0.9475,"y":2.711},{"v":-0.75,"x":0.96,"y":3.451},{"v":-0.75,"x":0.973,"y":4.745},{"v":-0.75,"x":0.979,"y":5.857},{"v":-0.75,"x":0.9845,"y":7.004},{"v":-0.75,"x":0.988,"y":7.555},{"v":-0.75,"x":0.993,"y":6.97},{"v":-0.75,"x":1.0,"y":6.84},
{"v":-0.5,"x":0,"y":0},{"v":-0.5,"x":0.316,"y":0},{"v":-0.5,"x":0.4,"y":0.06},{"v":-0.5,"x":0.5,"y":0.09},{"v":-0.5,"x":0.59,"y":0.12},{"v":-0.5,"x":0.594,"y":0.24},{"v":-0.5,"x":0.65,"y":0.3},{"v":-0.5,"x":0.703,"y":0.36},{"v":-0.5,"x":0.7675,"y":0.46},{"v":-0.5,"x":0.799,"y":0.57},{"v":-0.5,"x":0.8125,"y":0.72},{"v":-0.5,"x":0.822,"y":0.93},{"v":-0.5,"x":0.848,"y":1.1},{"v":-0.5,"x":0.88,"y":1.22},{"v":-0.5,"x":0.9025,"y":1.3},{"v":-0.5,"x":0.9217,"y":1.35},{"v":-0.5,"x":0.925,"y":1.22},{"v":-0.5,"x":0.9315,"y":1.8},{"v":-0.5,"x":0.9475,"y":2.66},{"v":-0.5,"x":0.96,"y":3.4},{"v":-0.5,"x":0.973,"y":4.7},{"v":-0.5,"x":0.979,"y":5.8},{"v":-0.5,"x":0.9845,"y":6.95},{"v":-0.5,"x":0.988,"y":7.45},{"v":-0.5,"x":0.993,"y":7.0},{"v":-0.5,"x":1.0,"y":6.9},
{"v":-0.25,"x":0,"y":0},{"v":-0.25,"x":0.562,"y":0},{"v":-0.25,"x":0.6,"y":0},{"v":-0.25,"x":0.65,"y":0.09},{"v":-0.25,"x":0.703,"y":0.18},{"v":-0.25,"x":0.7675,"y":0.32},{"v":-0.25,"x":0.799,"y":0.48},{"v":-0.25,"x":0.8155,"y":0.64},{"v":-0.25,"x":0.8205,"y":0.82},{"v":-0.25,"x":0.864,"y":0.94},{"v":-0.25,"x":0.9155,"y":1.1},{"v":-0.25,"x":0.925,"y":1.03},{"v":-0.25,"x":0.938,"y":1.645},{"v":-0.25,"x":0.954,"y":2.56},{"v":-0.25,"x":0.9667,"y":3.57},{"v":-0.25,"x":0.9765,"y":4.85},{"v":-0.25,"x":0.9845,"y":6.45},{"v":-0.25,"x":0.988,"y":7.15},{"v":-0.25,"x":0.993,"y":7.05},{"v":-0.25,"x":1.0,"y":7.0}
]
},
"vconcat": [
{
 "width": 1111, "height": 711,
 "layer": [
  {"data": {"name": "a"},
   "mark": {"type": "line", "strokeWidth": 7, "strokeCap": "round", "strokeJoin": "round", "interpolate": "monotone", "clip": true},
   "encoding": {
    "x": {"field": "x", "type": "quantitative", "scale": {"domain": [0, 1], "nice": false, "zero": false},
      "axis": {"orient": "bottom", "values": [0, 0.2, 0.4, 0.6, 0.8, 1.0], "format": ".1f", "labelPadding": 22, "title": "ψ", "titleFont": "DejaVu Serif", "titleFontStyle": "italic", "titleFontSize": 100, "titleX": 552, "titleY": 108, "titleBaseline": "alphabetic", "titleAlign": "center"}},
    "y": {"field": "y", "type": "quantitative", "scale": {"domain": [0, 3], "nice": false},
      "axis": {"orient": "left", "values": [0, 0.6, 1.2, 1.8, 2.4, 3.0], "format": ".1f", "labelPadding": 21, "title": "ξ̅ψ, m=2", "titleFont": "DejaVu Serif", "titleFontStyle": "italic", "titleFontSize": 64, "titleAngle": 270, "titleX": -131, "titleY": 340, "titleBaseline": "alphabetic", "titleAlign": "center"}},
    "color": {"field": "v", "type": "quantitative", "scale": {"scheme": "viridis", "domain": [-3, 0]},
      "legend": {"orient": "none", "legendX": 1180, "legendY": 0, "direction": "vertical", "gradientLength": 711, "gradientThickness": 37, "gradientStrokeColor": "black", "gradientStrokeWidth": 2, "title": null, "values": [-2.4, -1.8, -1.2, -0.6, 0], "labelExpr": "replace(format(datum.value, '.1f'), '-', '\u2212')", "labelFontSize": 50, "labelOffset": 14, "labelOverlap": false, "encode": {"labels": {"update": {"baseline": {"value": "middle"}, "dy": {"signal": "datum.value == 0 ? -9 : -2"}}}}}}
   }},
  {"data": {"values": [{"x": 0, "y": 0}]},
   "mark": {"type": "point", "opacity": 0},
   "encoding": {
    "x": {"field": "x", "type": "quantitative", "scale": {"domain": [0, 1], "nice": false, "zero": false},
      "axis": {"orient": "top", "values": [0, 0.2, 0.4, 0.6, 0.8, 1.0], "labels": false, "title": "×10⁻⁴", "titleFont": "DejaVu Sans", "titleFontSize": 42, "titleX": 2, "titleY": -12, "titleAlign": "left", "titleBaseline": "alphabetic"}},
    "y": {"field": "y", "type": "quantitative", "scale": {"domain": [0, 3], "nice": false},
      "axis": {"orient": "right", "values": [0, 0.6, 1.2, 1.8, 2.4, 3.0], "labels": false, "title": "log₁₀(ψlow)", "titleFont": "DejaVu Serif", "titleFontSize": 60, "titleAngle": 270, "titleX": 306, "titleY": 358, "titleBaseline": "alphabetic", "titleAlign": "center"}}
   }},
  {"data": {"values": [{"x": 0, "y": 0}]},
   "mark": {"type": "point", "opacity": 0},
   "encoding": {
    "y": {"field": "y", "type": "quantitative", "scale": {"domain": [0, 3], "nice": false},
      "axis": {"orient": "left", "ticks": false, "labels": false, "title": "a.", "titleFont": "DejaVu Sans", "titleFontSize": 82, "titleAngle": 0, "titleX": -171, "titleY": 804, "titleAlign": "left", "titleBaseline": "alphabetic"}}
   }}
 ],
 "resolve": {"axis": {"x": "independent", "y": "independent"}}
},
{
 "width": 1111, "height": 711,
 "layer": [
  {"data": {"name": "b"},
   "mark": {"type": "line", "strokeWidth": 7, "strokeCap": "round", "strokeJoin": "round", "interpolate": "monotone", "clip": true},
   "encoding": {
    "x": {"field": "x", "type": "quantitative", "scale": {"domain": [0, 1], "nice": false, "zero": false},
      "axis": {"orient": "bottom", "values": [0, 0.2, 0.4, 0.6, 0.8, 1.0], "format": ".1f", "labelPadding": 22, "title": "ψ", "titleFont": "DejaVu Serif", "titleFontStyle": "italic", "titleFontSize": 100, "titleX": 552, "titleY": 108, "titleBaseline": "alphabetic", "titleAlign": "center"}},
    "y": {"field": "y", "type": "quantitative", "scale": {"domain": [0, 8], "nice": false},
      "axis": {"orient": "left", "values": [0, 2, 4, 6, 8], "format": "d", "labelPadding": 21, "title": "ξ̅ψ, m=4", "titleFont": "DejaVu Serif", "titleFontStyle": "italic", "titleFontSize": 64, "titleAngle": 270, "titleX": -131, "titleY": 345, "titleBaseline": "alphabetic", "titleAlign": "center"}},
    "color": {"field": "v", "type": "quantitative", "scale": {"scheme": "viridis", "domain": [-3, 0]},
      "legend": {"orient": "none", "legendX": 1180, "legendY": 0, "direction": "vertical", "gradientLength": 711, "gradientThickness": 37, "gradientStrokeColor": "black", "gradientStrokeWidth": 2, "title": null, "values": [-2.4, -1.8, -1.2, -0.6, 0], "labelExpr": "replace(format(datum.value, '.1f'), '-', '\u2212')", "labelFontSize": 50, "labelOffset": 14, "labelOverlap": false, "encode": {"labels": {"update": {"baseline": {"value": "middle"}, "dy": {"signal": "datum.value == 0 ? -9 : -2"}}}}}}
   }},
  {"data": {"values": [{"x": 0, "y": 0}]},
   "mark": {"type": "point", "opacity": 0},
   "encoding": {
    "x": {"field": "x", "type": "quantitative", "scale": {"domain": [0, 1], "nice": false, "zero": false},
      "axis": {"orient": "top", "values": [0, 0.2, 0.4, 0.6, 0.8, 1.0], "labels": false, "title": "×10⁻⁴", "titleFont": "DejaVu Sans", "titleFontSize": 42, "titleX": 2, "titleY": -12, "titleAlign": "left", "titleBaseline": "alphabetic"}},
    "y": {"field": "y", "type": "quantitative", "scale": {"domain": [0, 8], "nice": false},
      "axis": {"orient": "right", "values": [0, 2, 4, 6, 8], "labels": false, "title": "log₁₀(ψlow)", "titleFont": "DejaVu Serif", "titleFontSize": 60, "titleAngle": 270, "titleX": 306, "titleY": 358, "titleBaseline": "alphabetic", "titleAlign": "center"}}
   }},
  {"data": {"values": [{"x": 0, "y": 0}]},
   "mark": {"type": "point", "opacity": 0},
   "encoding": {
    "y": {"field": "y", "type": "quantitative", "scale": {"domain": [0, 8], "nice": false},
      "axis": {"orient": "left", "ticks": false, "labels": false, "title": "b.", "titleFont": "DejaVu Sans", "titleFontSize": 82, "titleAngle": 0, "titleX": -156, "titleY": 818, "titleAlign": "left", "titleBaseline": "alphabetic"}}
   }}
 ],
 "resolve": {"axis": {"x": "independent", "y": "independent"}}
}
],
"resolve": {"legend": {"color": "independent"}, "scale": {"color": "independent"}}
}
